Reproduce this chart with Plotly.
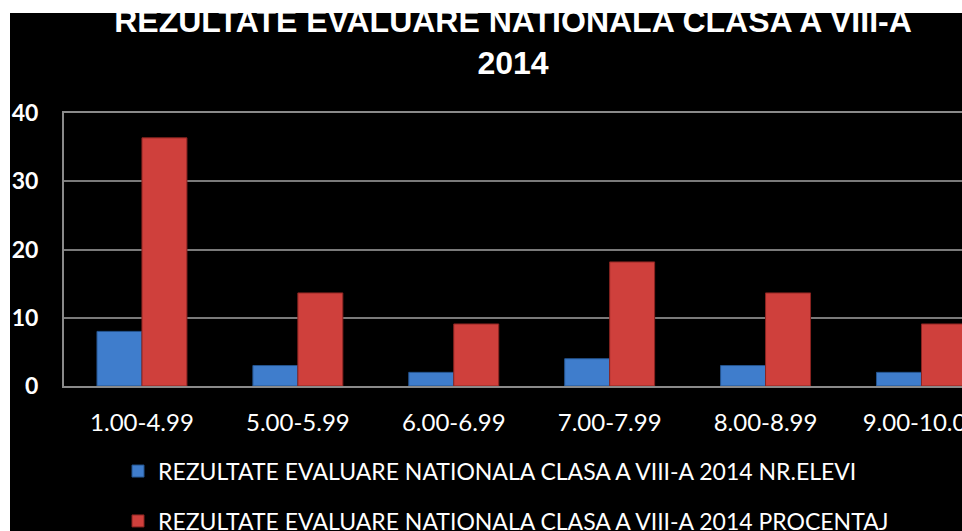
import plotly.graph_objects as go

categories = ["1.00-4.99", "5.00-5.99", "6.00-6.99", "7.00-7.99", "8.00-8.99", "9.00-10.00"]
nr_elevi = [8, 3, 2, 4, 3, 2]
procentaj = [36.36, 13.64, 9.09, 18.18, 13.64, 9.09]
y_ticks = [0, 10, 20, 30, 40]

name1 = "REZULTATE EVALUARE NATIONALA CLASA A VIII-A 2014 NR.ELEVI"
name2 = "REZULTATE EVALUARE NATIONALA CLASA A VIII-A 2014 PROCENTAJ"
title = "REZULTATE EVALUARE NATIONALA CLASA A VIII-A<br>2014"

W, H = 962, 531
L, T = 64, 113
R = 0
B = H - 386
pw, ph = W - L - R, H - T - B


def px_x(p):
    return (p - L) / pw


def px_y(p):
    return (H - B - p) / ph


fig = go.Figure()
fig.add_trace(go.Bar(
    x=categories, y=nr_elevi, name=name1, legendgroup="a",
    marker=dict(color="#3f7dcc", line=dict(color="#24548f", width=1)),
))
fig.add_trace(go.Bar(
    x=categories, y=procentaj, name=name2, legendgroup="b",
    marker=dict(color="#cf403c", line=dict(color="#8a2421", width=1)),
))

fig.add_shape(type="rect", xref="paper", yref="paper",
              x0=px_x(10), x1=px_x(W + 10), y0=px_y(H + 10), y1=px_y(13),
              fillcolor="black", line=dict(width=0), layer="below")

fig.update_layout(
    width=W, height=H,
    margin=dict(l=L, r=R, t=T, b=B, pad=0, autoexpand=False),
    paper_bgcolor="white",
    plot_bgcolor="#404040",
    barmode="group", bargap=0.423, bargroupgap=0,
    title=dict(text=title, x=513 / W, xref="container", xanchor="center",
               y=1 - 31.9 / H, yref="container", yanchor="top",
               font=dict(family="Liberation Sans, Arial, sans-serif", size=32,
                         color="white", weight="bold")),
    font=dict(family="Lato, Carlito, sans-serif", color="white"),
    legend=dict(x=px_x(118), xanchor="left", y=px_y(449.6), yanchor="top",
                orientation="v", font=dict(size=23, color="white"),
                tracegroupgap=17, bgcolor="rgba(0,0,0,0)"),
    xaxis=dict(range=[-0.5, 5.26], showgrid=False, showline=True, linecolor="#8a8a8a",
               linewidth=2, mirror=True, tickfont=dict(size=24, color="white"),
               ticks="", ticklabelstandoff=14, automargin=False),
    yaxis=dict(range=[0, 40], tickvals=y_ticks, showgrid=True, gridcolor="#7a7a7a",
               gridwidth=2, showline=True, linecolor="#8a8a8a", linewidth=2, mirror=True,
               tickfont=dict(size=23, color="white", weight="bold"), ticks="",
               ticklabelstandoff=19, zeroline=False, automargin=False),
    showlegend=True,
)

fig.write_html(
    "out.html",
    config={"responsive": False, "displayModeBar": False},
    post_script=("document.documentElement.style.overflow='hidden';"
                 "document.body.style.overflow='hidden';"
                 "document.body.style.margin='0';"),
)
